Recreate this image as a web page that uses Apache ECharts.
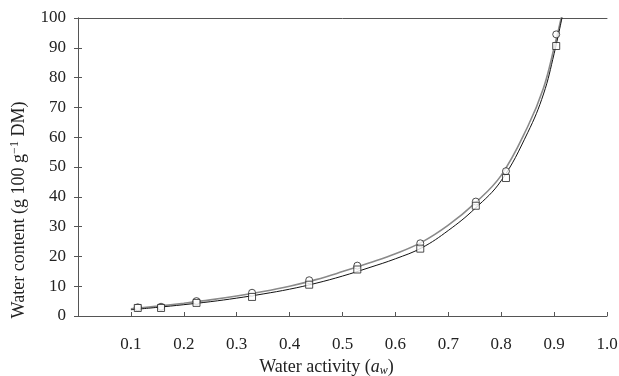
<!DOCTYPE html>
<html>
<head>
<meta charset="utf-8">
<script src="https://cdn.jsdelivr.net/npm/echarts@6/dist/echarts.min.js"></script>
<style>
  html, body { margin: 0; padding: 0; background: #fff; }
  #chart { width: 619px; height: 376px; }
</style>
</head>
<body>
<div id="chart"></div>
<script>
// measured points (water activity, water content)
const awPoints = [0.113, 0.157, 0.224, 0.329, 0.437, 0.528, 0.647, 0.752, 0.809, 0.904];
const circleValues = [2.9, 3.1, 5.0, 7.8, 12.0, 16.9, 24.4, 38.4, 48.6, 94.5];
const squareValues = [2.7, 2.7, 4.4, 6.4, 10.5, 15.6, 22.6, 37.0, 46.3, 90.6];

// fitted curves
const curveAw = [0.1, 0.15, 0.2, 0.25, 0.3, 0.35, 0.4, 0.45, 0.5, 0.55, 0.6, 0.65, 0.7, 0.75, 0.8, 0.85, 0.88, 0.9, 0.916];
const upperCurve = [2.4, 3.3, 4.3, 5.4, 6.7, 8.2, 10.0, 12.2, 14.9, 17.8, 20.9, 24.8, 30.5, 37.8, 47.2, 63.5, 76.5, 90, 102];
const lowerCurve = [2.1, 2.9, 3.8, 4.8, 6.0, 7.4, 9.0, 11.0, 13.4, 16.2, 19.2, 22.9, 28.7, 36.0, 45.4, 61.5, 74.5, 88, 101];

const xTicks = [0.1, 0.2, 0.3, 0.4, 0.5, 0.6, 0.7, 0.8, 0.9, 1.0];

const pairs = (xs, ys) => xs.map((x, i) => [x, ys[i]]);

const serif = '"Liberation Serif", "DejaVu Serif", serif';
const axisColor = '#555';

let chart = echarts.init(document.getElementById('chart'));
let option = {
  animation: false,
  grid: { left: 78, right: 12, top: 18, bottom: 60, outerBoundsMode: 'none', containLabel: false },
  xAxis: [
    {
      type: 'value',
      min: 0,
      max: 1,
      interval: 0.1,
      name: 'Water activity ({i|a}{sub|w})',
      nameLocation: 'middle',
      nameGap: 34,
      nameTextStyle: {
        fontFamily: serif,
        fontSize: 18,
        color: '#222',
        padding: [0, 32, 0, 0],
        rich: {
          i: { fontFamily: serif, fontSize: 18, fontStyle: 'italic', color: '#222' },
          sub: { fontFamily: serif, fontSize: 12, fontStyle: 'italic', color: '#222', padding: [7, 0, 0, 0] }
        }
      },
      axisLine: { lineStyle: { color: axisColor, width: 1 } },
      axisTick: { inside: true, length: 4, lineStyle: { color: axisColor } },
      axisLabel: {
        fontFamily: serif,
        fontSize: 17,
        color: '#222',
        margin: 20,
        formatter: v => {
          const t = xTicks.find(x => Math.abs(x - v) < 1e-6);
          return t === undefined ? '' : t.toFixed(1);
        }
      },
      splitLine: { show: false }
    },
    {
      type: 'value',
      position: 'top',
      min: 0,
      max: 1,
      interval: 0.1,
      axisLine: { show: true, onZero: false, lineStyle: { color: axisColor, width: 1 } },
      axisTick: { show: false },
      axisLabel: { show: false },
      splitLine: { show: false }
    }
  ],
  yAxis: [
    {
      type: 'value',
      min: 0,
      max: 100,
      interval: 10,
      name: 'Water content (g 100 g{sup|−1} DM)',
      nameLocation: 'middle',
      nameGap: 48,
      nameTextStyle: {
        fontFamily: serif,
        fontSize: 18,
        color: '#222',
        padding: [0, 86, 0, 0],
        rich: {
          sup: { fontFamily: serif, fontSize: 12, color: '#222', padding: [0, 0, 9, 0] }
        }
      },
      axisLine: { show: true, lineStyle: { color: axisColor, width: 1 } },
      axisTick: { inside: true, length: 4, lineStyle: { color: axisColor } },
      axisLabel: { fontFamily: serif, fontSize: 17, color: '#222', margin: 12 },
      splitLine: { show: false }
    },
    {
      type: 'value',
      position: 'right',
      min: 0,
      max: 100,
      interval: 10,
      axisLine: { show: true, lineStyle: { color: axisColor, width: 1 } },
      axisTick: { inside: true, length: 4, lineStyle: { color: axisColor } },
      axisLabel: { show: false },
      splitLine: { show: false }
    }
  ],
  series: [
    {
      type: 'line',
      data: pairs(curveAw, upperCurve),
      smooth: 0.4,
      showSymbol: false,
      clip: true,
      lineStyle: { color: '#8a8a8a', width: 1.6 },
      z: 2
    },
    {
      type: 'line',
      data: pairs(curveAw, lowerCurve),
      smooth: 0.4,
      showSymbol: false,
      clip: true,
      lineStyle: { color: '#111', width: 1 },
      z: 3
    },
    {
      type: 'scatter',
      data: pairs(awPoints, circleValues),
      symbol: 'circle',
      symbolSize: 7,
      itemStyle: { color: '#fff', borderColor: '#222', borderWidth: 1 },
      z: 4
    },
    {
      type: 'scatter',
      data: pairs(awPoints, squareValues),
      symbol: 'rect',
      symbolSize: 7,
      itemStyle: { color: '#fff', borderColor: '#222', borderWidth: 1 },
      z: 5
    }
  ]
};
chart.setOption(option);
</script>
</body>
</html>
